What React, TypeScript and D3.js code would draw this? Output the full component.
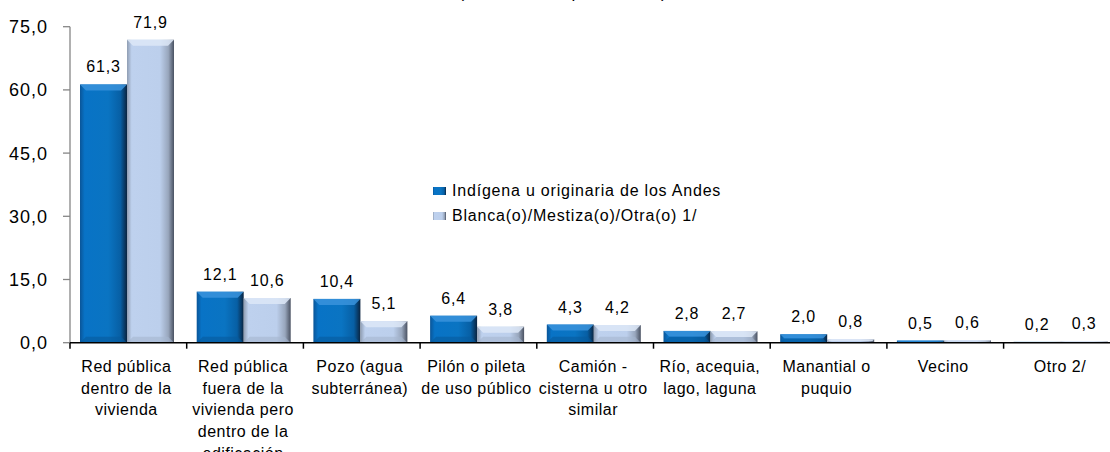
import React from "react";
import * as d3 from "d3";

const categories: string[][] = [
  ["Red pública", "dentro de la", "vivienda"],
  ["Red pública", "fuera de la", "vivienda pero", "dentro de la", "edificación"],
  ["Pozo (agua", "subterránea)"],
  ["Pilón o pileta", "de uso público"],
  ["Camión -", "cisterna u otro", "similar"],
  ["Río, acequia,", "lago, laguna"],
  ["Manantial o", "puquio"],
  ["Vecino"],
  ["Otro 2/"],
];
const seriesNames = ["Indígena u originaria de los Andes", "Blanca(o)/Mestiza(o)/Otra(o) 1/"];
const indigena = [61.3, 12.1, 10.4, 6.4, 4.3, 2.8, 2.0, 0.5, 0.2];
const blanca = [71.9, 10.6, 5.1, 3.8, 4.2, 2.7, 0.8, 0.6, 0.3];
const yTicks = [0, 15, 30, 45, 60, 75];
const title = "(Distribución porcentual)";

const W = 1110;
const H = 452;
const FONT = "Arial, 'Liberation Sans', sans-serif";

const fmt = (v: number) => v.toFixed(1).replace(".", ",");

export default function App() {
  const keys = categories.map((_, i) => String(i));
  const x = d3.scaleBand<string>().domain(keys).range([70, 70 + 9 * 116.7]).paddingInner(0).paddingOuter(0);
  const xs = d3.scaleBand<string>().domain(["0", "1"]).range([10, 104]);
  const y = d3.scaleLinear().domain([0, 75]).range([342.7, 26.7]);
  const series = [indigena, blanca];
  const fills = ["url(#gBlue)", "url(#gLight)"];
  const bevelFill = ["#3a93dc", "#dde7f7"];
  const bottomFill = ["#075a9c", "#a5b5cf"];

  const bars: React.ReactNode[] = [];
  const labels: React.ReactNode[] = [];
  categories.forEach((_, i) => {
    series.forEach((vals, s) => {
      const v = vals[i];
      const bx = (x(String(i)) as number) + (xs(String(s)) as number);
      const bw = xs.bandwidth();
      const top = y(v);
      const bottom = y(0);
      const h = bottom - top;
      const b = Math.min(6, h / 2);
      bars.push(
        <g key={`b${i}-${s}`}>
          <rect x={bx} y={top} width={bw} height={h} fill={fills[s]} />
          {h > 1 && (
            <polygon
              points={`${bx},${top} ${bx + bw},${top} ${bx + bw - b},${top + b} ${bx + b},${top + b}`}
              fill={bevelFill[s]}
              opacity={0.85}
            />
          )}
          {h > 4 && (
            <polygon
              points={`${bx},${bottom} ${bx + bw},${bottom} ${bx + bw - b},${bottom - b} ${bx + b},${bottom - b}`}
              fill={bottomFill[s]}
              opacity={0.6}
            />
          )}
        </g>
      );
      labels.push(
        <text
          key={`l${i}-${s}`}
          x={bx + bw / 2}
          y={top - 12}
          textAnchor="middle"
          fontSize={16}
          letterSpacing={0.8}
          fill="#000"
        >
          {fmt(v)}
        </text>
      );
    });
  });

  const boundaries = d3.range(0, 10).map((i) => 70 + i * 116.7);

  return (
    <svg
      width={W}
      height={H}
      style={{ position: "absolute", left: 0, top: 0, background: "#fff" }}
      fontFamily={FONT}
    >
      <defs>
        <linearGradient id="gBlue" x1="0" x2="1" y1="0" y2="0">
          <stop offset="0" stopColor="#0a5598" />
          <stop offset="0.1" stopColor="#0873c6" />
          <stop offset="0.6" stopColor="#0a74c2" />
          <stop offset="0.86" stopColor="#075fa4" />
          <stop offset="1" stopColor="#0a2440" />
        </linearGradient>
        <linearGradient id="gLight" x1="0" x2="1" y1="0" y2="0">
          <stop offset="0" stopColor="#8f9db2" />
          <stop offset="0.1" stopColor="#bed1ee" />
          <stop offset="0.7" stopColor="#bccfec" />
          <stop offset="0.88" stopColor="#98a6bc" />
          <stop offset="1" stopColor="#4a5262" />
        </linearGradient>
      </defs>
      <rect x={0} y={0} width={W} height={H} fill="#fff" />
      <text x={563} y={-2} textAnchor="middle" fontSize={17} letterSpacing={1}>
        {title}
      </text>

      {/* y axis */}
      <line x1={70} x2={70} y1={y(75)} y2={y(0)} stroke="#868686" strokeWidth={1.3} />
      {yTicks.map((t) => (
        <g key={`yt${t}`}>
          <line x1={63} x2={70} y1={y(t)} y2={y(t)} stroke="#868686" strokeWidth={1.3} />
          <text x={48} y={y(t)} dy="0.36em" textAnchor="end" fontSize={18} letterSpacing={1}>
            {fmt(t)}
          </text>
        </g>
      ))}

      {bars}
      {labels}

      {/* x axis */}
      <line x1={70} x2={W} y1={y(0)} y2={y(0)} stroke="#000" strokeWidth={1.5} />
      {boundaries.map((bx, i) => (
        <line key={`xt${i}`} x1={bx} x2={bx} y1={y(0)} y2={y(0) + 6} stroke="#000" strokeWidth={1.5} />
      ))}
      {categories.map((lines, i) => (
        <text
          key={`c${i}`}
          x={(x(String(i)) as number) + x.bandwidth() / 2 - 2}
          y={372}
          textAnchor="middle"
          fontSize={16}
          letterSpacing={0.5}
        >
          {lines.map((ln, j) => (
            <tspan key={j} x={(x(String(i)) as number) + x.bandwidth() / 2 - 2} dy={j === 0 ? 0 : 21.7}>
              {ln}
            </tspan>
          ))}
        </text>
      ))}

      {/* legend */}
      {seriesNames.map((name, s) => (
        <g key={`lg${s}`} transform={`translate(0, ${s * 25})`}>
          <rect x={433} y={187} width={13} height={8} fill={fills[s]} />
          <text x={452} y={196} fontSize={16} letterSpacing={0.8}>
            {name}
          </text>
        </g>
      ))}
    </svg>
  );
}
